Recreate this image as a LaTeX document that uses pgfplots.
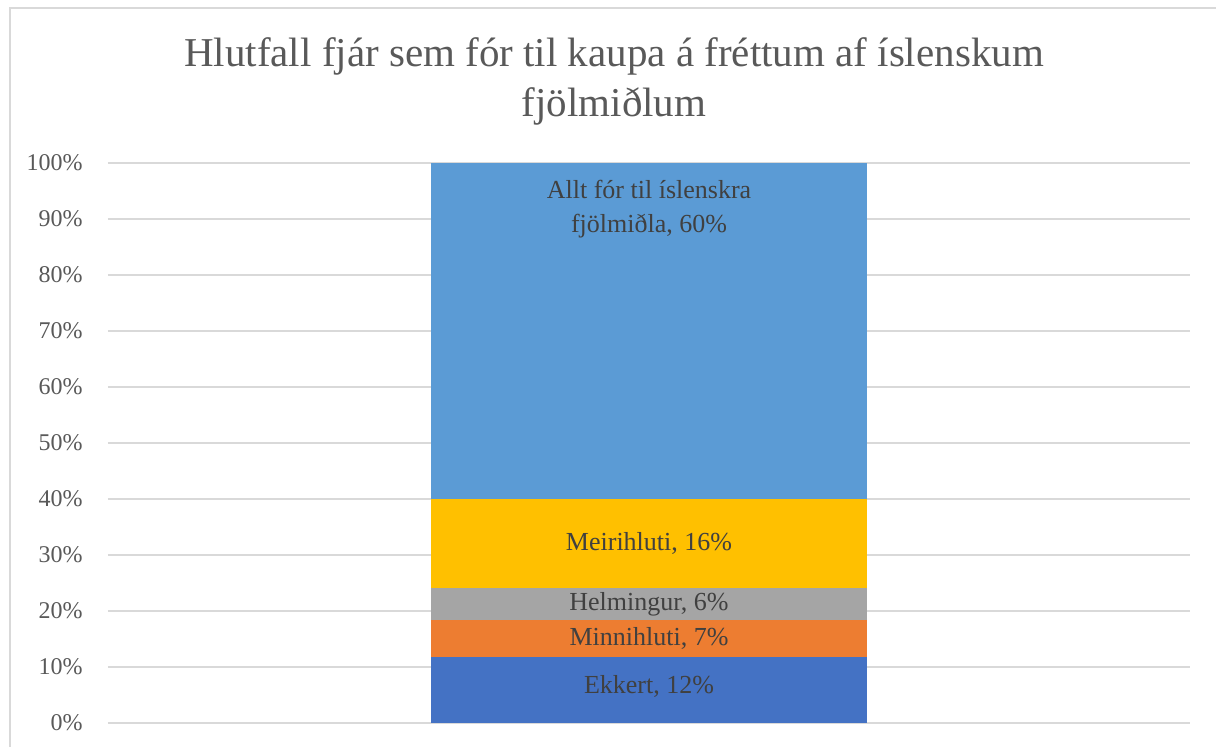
\documentclass[border=0pt]{standalone}
\usepackage{fontspec}
\setmainfont{Liberation Serif}
\usepackage{pgfplots}
\pgfplotsset{compat=1.18}
\definecolor{cEk}{HTML}{4472C4}
\definecolor{cMin}{HTML}{ED7D31}
\definecolor{cHel}{HTML}{A5A5A5}
\definecolor{cMei}{HTML}{FFC000}
\definecolor{cAll}{HTML}{5B9BD5}
\definecolor{gridc}{HTML}{D9D9D9}
\definecolor{tickc}{HTML}{595959}
\definecolor{labc}{HTML}{404040}
\tikzset{dlab/.style={anchor=base, text=labc, font=\fontsize{13}{16}\selectfont}}
\begin{document}
\begin{tikzpicture}
\useasboundingbox (0pt,0pt) rectangle (608pt,373.5pt);
\draw[gridc, line width=1pt] (5pt,-3pt) -- (5pt,369.5pt) -- (612pt,369.5pt);
\node[anchor=base, text=tickc, font=\fontsize{20.5}{25}\selectfont] at (307pt,340pt) {Hlutfall fjár sem fór til kaupa á fréttum af íslenskum};
\node[anchor=base, text=tickc, font=\fontsize{20.5}{25}\selectfont] at (307pt,315pt) {fjölmiðlum};
\begin{axis}[
  at={(54pt,12pt)}, anchor=south west,
  scale only axis, width=541pt, height=280pt,
  xmin=-1, xmax=1, ymin=0, ymax=100,
  ybar stacked, bar width=217.5pt,
  xtick=\empty,
  ytick={0,10,...,100},
  ymajorgrids, grid style={gridc, line width=1pt},
  axis line style={draw=none},
  major tick style={draw=none},
  /pgf/number format/assume math mode=true,
  yticklabel={\pgfmathprintnumber{\tick}\%},
  yticklabel style={anchor=east, inner sep=0pt, xshift=-12.5pt, text=tickc, font=\fontsize{12}{14}\selectfont},
  clip=false,
]
\addplot[fill=cEk, draw=none] coordinates {(0,11.8)};
\addplot[fill=cMin, draw=none] coordinates {(0,6.65)};
\addplot[fill=cHel, draw=none] coordinates {(0,5.7)};
\addplot[fill=cMei, draw=none] coordinates {(0,15.85)};
\addplot[fill=cAll, draw=none] coordinates {(0,60)};
\coordinate (l1) at (axis cs:0,5.3);
\coordinate (l2) at (axis cs:0,13.75);
\coordinate (l3) at (axis cs:0,20.05);
\coordinate (l4) at (axis cs:0,30.77);
\coordinate (l5) at (axis cs:0,93.57);
\coordinate (l6) at (axis cs:0,87.5);
\end{axis}
\node[dlab] at (l1) {Ekkert, 12\%};
\node[dlab] at (l2) {Minnihluti, 7\%};
\node[dlab] at (l3) {Helmingur, 6\%};
\node[dlab] at (l4) {Meirihluti, 16\%};
\node[dlab] at (l5) {Allt fór til íslenskra};
\node[dlab] at (l6) {fjölmiðla, 60\%};
\end{tikzpicture}
\end{document}
